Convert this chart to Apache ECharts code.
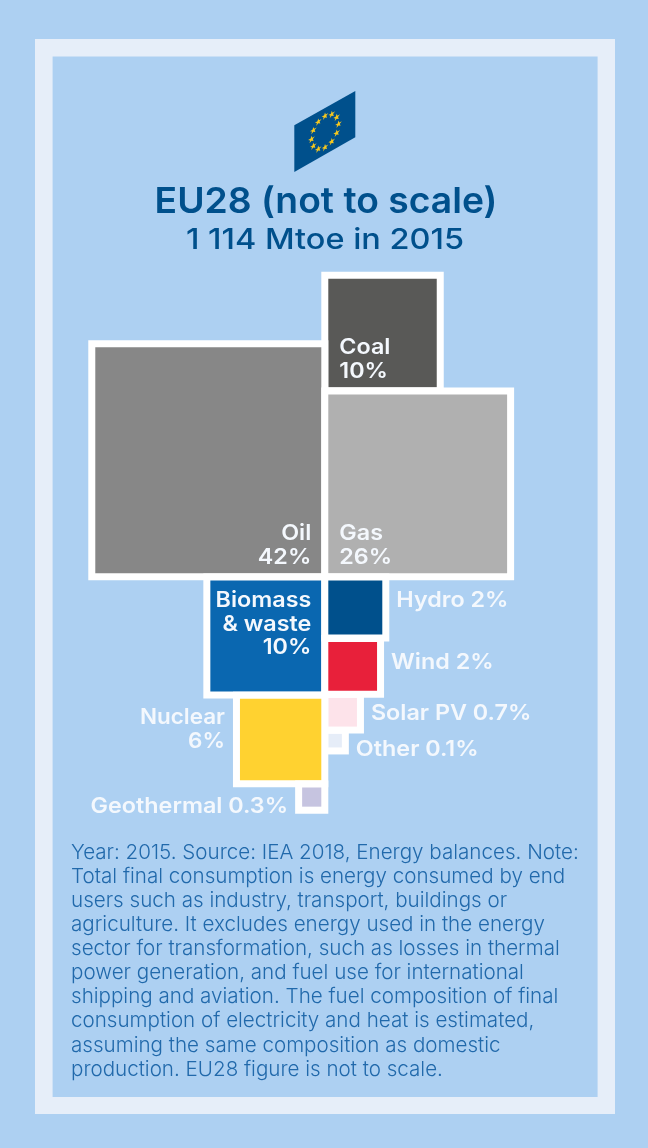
<!DOCTYPE html>
<html><head><meta charset="utf-8">
<style>html,body{margin:0;padding:0;background:#add0f2}#c{width:648px;height:1148px}</style>
<script src="https://cdn.jsdelivr.net/npm/echarts@6/dist/echarts.min.js"></script>
</head><body><div id="c"></div>
<script>
// ---- data ----
const titleText = 'EU28 (not to scale)';
const subtitleText = '1 114 Mtoe in 2015';
const leftSources = ['Oil', 'Biomass\n& waste', 'Nuclear', 'Geothermal'];
const leftLabels = ['42%', '10%', '6%', '0.3%'];
const leftAreas = [41.7, 10.05, 5.4, 0.3];
const rightSources = ['Gas', 'Coal', 'Hydro', 'Wind', 'Solar PV', 'Other'];
const rightLabels = ['26%', '10%', '2%', '2%', '0.7%', '0.1%'];
const rightAreas = [26.1, 9.6, 2.38, 1.94, 0.67, 0.15];
const noteLines = [
  'Year: 2015. Source: IEA 2018, Energy balances. Note:',
  'Total final consumption is energy consumed by end',
  'users such as industry, transport, buildings or',
  'agriculture. It excludes energy used in the energy',
  'sector for transformation, such as losses in thermal',
  'power generation, and fuel use for international',
  'shipping and aviation. The fuel composition of final',
  'consumption of electricity and heat is estimated,',
  'assuming the same composition as domestic',
  'production. EU28 figure is not to scale.'
];

// ---- styles and layout ----
const COL = {Oil:'#878787',Gas:'#b0b0b0',Coal:'#595957','Biomass\n& waste':'#0a67b0',Hydro:'#00508c',Wind:'#e8203a','Solar PV':'#fde3ea',Other:'#e6edf8',Nuclear:'#ffd230',Geothermal:'#c6c4e0'};
const BG='#add0f2', FRAME='#e6eef9', DARK='#00508c', NOTE='#2169ab', WHITE='#ffffff', LAB='#f4f8fd';
const UNIT=35, GAP=7.3/UNIT, CX=324.8, BASE=573.3, HALF=3.5/UNIT;
const FF='Inter', LABEL_STRETCH=1.08;

const PLACE = {
  Oil:'ibr', Gas:'ibl', Coal:'ibl', 'Biomass\n& waste':'itr',
  Hydro:'or', Wind:'or', 'Solar PV':'or', Other:'or', Nuclear:'ol', Geothermal:'ol'
};

function stack(names, labels, areas, side){
  let rows=[]; let lower=0, upper=0;
  names.forEach((n,i)=>{
    const s=Math.sqrt(areas[i]);
    let y0,y1;
    if(n==='Coal'){ y0=upper+GAP; y1=y0+s; }
    else if(i===0){ y0=0; y1=s; upper=s; lower=-GAP; }
    else { y1=lower; y0=y1-s; lower=y0-GAP; }
    const x0= side<0 ? -HALF-s : HALF, x1= side<0 ? -HALF : HALF+s;
    rows.push([x0,y0,x1,y1,n,labels[i]]);
  });
  return rows;
}
const rows=[...stack(rightSources,rightLabels,rightAreas,1),...stack(leftSources,leftLabels,leftAreas,-1)];
const order=['Coal','Oil','Gas','Biomass\n& waste','Hydro','Wind','Solar PV','Other','Nuclear','Geothermal'];
rows.sort((a,b)=>order.indexOf(a[4])-order.indexOf(b[4]));

function renderSquare(params,api){
  const r=rows[params.dataIndex];
  const a=api.coord([api.value(0),api.value(3)]), b=api.coord([api.value(2),api.value(1)]);
  const x=a[0],y=a[1],w=b[0]-a[0],h=b[1]-a[1];
  const name=r[4], pct=r[5], mode=PLACE[name], b7=7;
  const kids=[
    {type:'rect',shape:{x:x-b7,y:y-b7,width:w+2*b7,height:h+2*b7},style:{fill:WHITE}},
    {type:'rect',shape:{x,y,width:w,height:h},style:{fill:COL[name]}}
  ];
  let t,lx,ly,al,va;
  if(mode==='ibl'){t=name+'\n'+pct;lx=x+11;ly=y+h-4.5;al='left';va='bottom';}
  if(mode==='ibr'){t=name+'\n'+pct;lx=x+w-10;ly=y+h-4.5;al='right';va='bottom';}
  if(mode==='itr'){t=name+'\n'+pct;lx=x+w-10;ly=y+8.5;al='right';va='top';}
  if(mode==='or'){t=name+' '+pct;lx=x+w+14;al='left';va='middle';
    ly=y+h/2+(name==='Hydro'?-7:name==='Wind'?-4:name==='Solar PV'?1.5:9);}
  if(mode==='ol'){al='right';va='middle';
    if(name==='Nuclear'){t=name+'\n'+pct;lx=x-15;ly=y+h/2-10;}
    else{t=name+' '+pct;lx=x-14;ly=y+h/2+9;}}
  kids.push({type:'text',z2:5,x:lx,y:ly,scaleX:name==='Nuclear'?1.04:LABEL_STRETCH,
    style:{text:t,x:0,y:0,align:al,verticalAlign:va,fill:LAB,font:'600 21.6px '+FF,lineHeight:23.3}});
  return {type:'group',children:kids};
}

const flagPts=[[294.3,125.3],[355.3,91],[355.3,137.3],[294.3,172]];
const flagC=[325,131.7], SH=0.562;
const stars=[];
for(let i=0;i<12;i++){
  const t=i*Math.PI/6, ox=13.5*Math.sin(t), oy=-15.7*Math.cos(t)-SH*13.5*Math.sin(t);
  const pts=[];
  for(let k=0;k<10;k++){
    const q=k*Math.PI/5, rr=k%2?1.4:3.5;
    const px=rr*Math.sin(q), py=-rr*Math.cos(q)-SH*rr*Math.sin(q);
    pts.push([flagC[0]+ox+px,flagC[1]+oy+py]);
  }
  stars.push({type:'polygon',z:1,shape:{points:pts},style:{fill:'#f7c81e'}});
}

const chart=echarts.init(document.getElementById('c'),null,{renderer:'canvas'});
chart.setOption({
  animation:false,
  backgroundColor:BG,
  title:[
    {text:noteLines.join('\n'),left:66,top:835.5,textStyle:{fontFamily:FF,fontWeight:300,fontSize:20.6,lineHeight:24.1,color:NOTE}}
  ],
  grid:{left:0,top:0,width:648,height:1148,show:false},
  xAxis:{type:'value',show:false,min:-CX/UNIT,max:(648-CX)/UNIT},
  yAxis:{type:'value',show:false,min:-(1148-BASE)/UNIT,max:BASE/UNIT},
  graphic:[
    {type:'rect',z:-2,shape:{x:35,y:39,width:580,height:1075},style:{fill:FRAME}},
    {type:'rect',z:-1,shape:{x:52.6,y:56.5,width:545,height:1040.5},style:{fill:BG}},
    {type:'polygon',z:0,shape:{points:flagPts},style:{fill:DARK}},
    ...stars,
    {type:'text',z:1,x:326,y:202,scaleX:1.035,style:{text:titleText,x:0,y:0,align:'center',verticalAlign:'middle',fill:DARK,font:'600 36px '+FF}},
    {type:'text',z:1,x:325,y:240,scaleX:1.12,style:{text:subtitleText,x:0,y:0,align:'center',verticalAlign:'middle',fill:DARK,font:'500 29px '+FF}}
  ],
  series:[{type:'custom',coordinateSystem:'cartesian2d',clip:false,renderItem:renderSquare,
    encode:{x:[0,2],y:[1,3]},data:rows.map(r=>r.slice(0,4))}]
});
</script></body></html>
